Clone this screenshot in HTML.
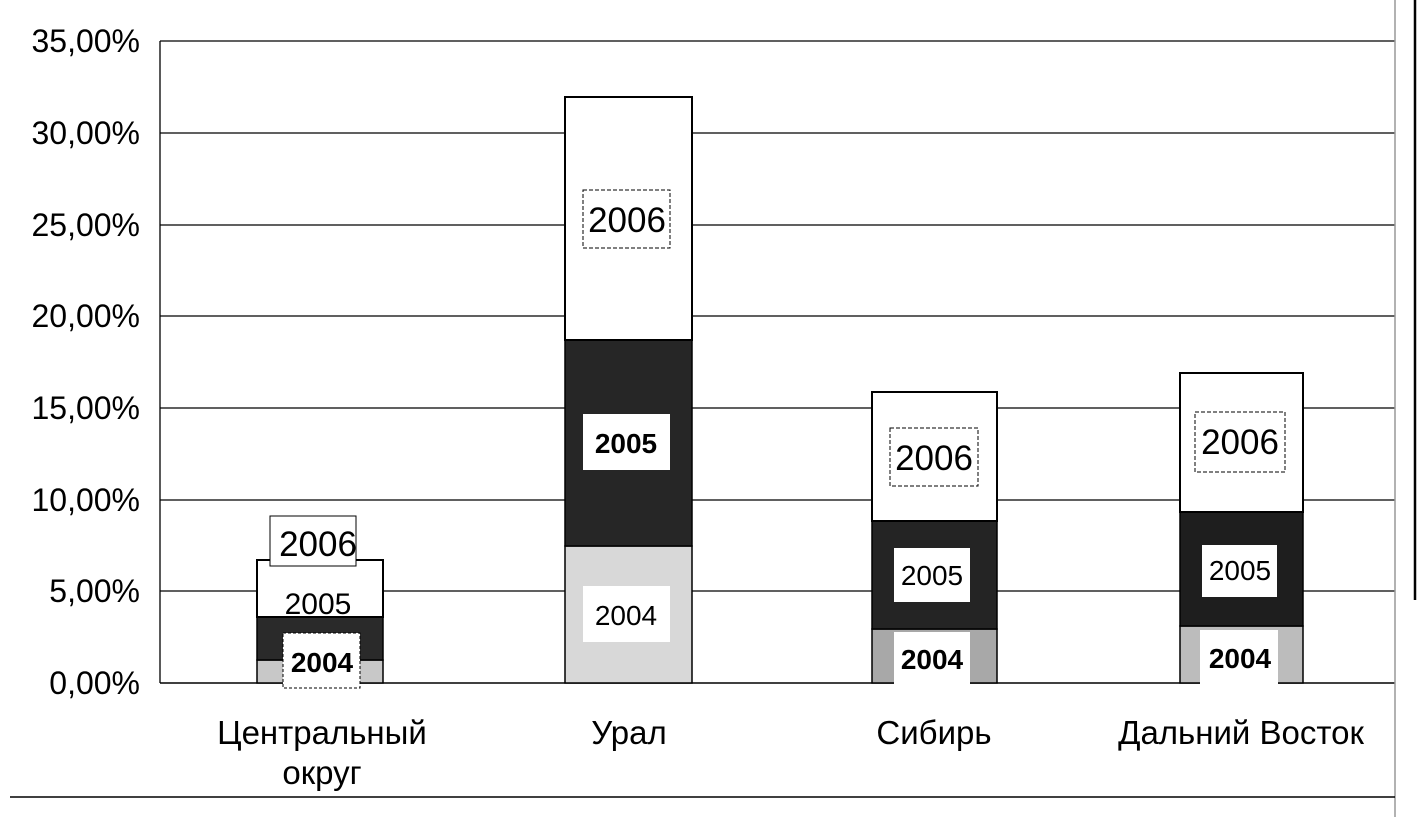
<!DOCTYPE html>
<html><head><meta charset="utf-8"><style>
html,body{margin:0;padding:0;background:#fff;}
svg{display:block;font-family:"Liberation Sans",sans-serif;}
</style></head><body>
<svg width="1423" height="817" viewBox="0 0 1423 817">
<rect width="1423" height="817" fill="#fff"/>
<g stroke="#000" stroke-width="1.3">
<line x1="160" y1="41" x2="1395" y2="41"/>
<line x1="160" y1="133" x2="1395" y2="133"/>
<line x1="160" y1="225" x2="1395" y2="225"/>
<line x1="160" y1="316" x2="1395" y2="316"/>
<line x1="160" y1="408" x2="1395" y2="408"/>
<line x1="160" y1="500" x2="1395" y2="500"/>
<line x1="160" y1="591" x2="1395" y2="591"/>
<line x1="160" y1="683" x2="1395" y2="683" stroke-width="1.6"/>
<line x1="160" y1="41" x2="160" y2="683"/>
</g>
<line x1="1395" y1="0" x2="1395" y2="817" stroke="#999" stroke-width="1.5"/>
<line x1="1415" y1="0" x2="1415" y2="600" stroke="#000" stroke-width="2.5"/>
<line x1="10" y1="797" x2="1395" y2="797" stroke="#000" stroke-width="1.5"/>
<g font-size="32" text-anchor="end" fill="#000">
<text x="140" y="52">35,00%</text>
<text x="140" y="144">30,00%</text>
<text x="140" y="236">25,00%</text>
<text x="140" y="327">20,00%</text>
<text x="140" y="419">15,00%</text>
<text x="140" y="511">10,00%</text>
<text x="140" y="602">5,00%</text>
<text x="140" y="694">0,00%</text>
</g>
<rect x="257" y="660" width="126" height="23" fill="#c8c8c8" stroke="#000" stroke-width="1.5"/>
<rect x="257" y="617" width="126" height="43" fill="#2a2a2a" stroke="#000" stroke-width="1.5"/>
<rect x="257" y="560" width="126" height="57" fill="#fff" stroke="#000" stroke-width="2"/>
<rect x="270" y="516" width="86" height="50" fill="#fff" stroke="#000"/>
<rect x="283" y="633" width="77" height="55" fill="#fff" stroke="#000" stroke-dasharray="3,2"/>
<rect x="565" y="546" width="127" height="137" fill="#d8d8d8" stroke="#000" stroke-width="1.5"/>
<rect x="565" y="340" width="127" height="206" fill="#262626" stroke="#000" stroke-width="1.5"/>
<rect x="565" y="97" width="127" height="243" fill="#fff" stroke="#000" stroke-width="2"/>
<rect x="583" y="190" width="87" height="58" fill="#fff" stroke="#000" stroke-dasharray="4,2"/>
<rect x="583" y="414" width="87" height="56" fill="#fff"/>
<rect x="583" y="586" width="87" height="56" fill="#fff"/>
<rect x="872" y="629" width="125" height="54" fill="#a8a8a8" stroke="#000" stroke-width="1.5"/>
<rect x="872" y="521" width="125" height="108" fill="#242424" stroke="#000" stroke-width="1.5"/>
<rect x="872" y="392" width="125" height="129" fill="#fff" stroke="#000" stroke-width="2"/>
<rect x="890" y="428" width="88" height="58" fill="#fff" stroke="#000" stroke-dasharray="4,2"/>
<rect x="894" y="548" width="76" height="54" fill="#fff"/>
<rect x="894" y="632" width="76" height="55" fill="#fff"/>
<rect x="1180" y="626" width="123" height="57" fill="#bcbcbc" stroke="#000" stroke-width="1.5"/>
<rect x="1180" y="512" width="123" height="114" fill="#1e1e1e" stroke="#000" stroke-width="1.5"/>
<rect x="1180" y="373" width="123" height="139" fill="#fff" stroke="#000" stroke-width="2"/>
<rect x="1195" y="412" width="90" height="60" fill="#fff" stroke="#000" stroke-dasharray="4,2"/>
<rect x="1202" y="545" width="75" height="52" fill="#fff"/>
<rect x="1200" y="630" width="78" height="55" fill="#fff"/>
<g text-anchor="middle" fill="#000">
<text x="318" y="556" font-size="35">2006</text>
<text x="318" y="614" font-size="30">2005</text>
<text x="322" y="672" font-size="28" font-weight="bold">2004</text>
<text x="627" y="232" font-size="35">2006</text>
<text x="626" y="453" font-size="28" font-weight="bold">2005</text>
<text x="626" y="625" font-size="28">2004</text>
<text x="934" y="470" font-size="35">2006</text>
<text x="932" y="585" font-size="28">2005</text>
<text x="932" y="669" font-size="28" font-weight="bold">2004</text>
<text x="1240" y="454" font-size="35">2006</text>
<text x="1240" y="580" font-size="28">2005</text>
<text x="1240" y="668" font-size="28" font-weight="bold">2004</text>
</g>
<g text-anchor="middle" font-size="33" fill="#000">
<text x="322" y="744">Центральный</text>
<text x="322" y="784">округ</text>
<text x="629" y="744">Урал</text>
<text x="934" y="744">Сибирь</text>
<text x="1241" y="744">Дальний Восток</text>
</g>
</svg>
</body></html>
